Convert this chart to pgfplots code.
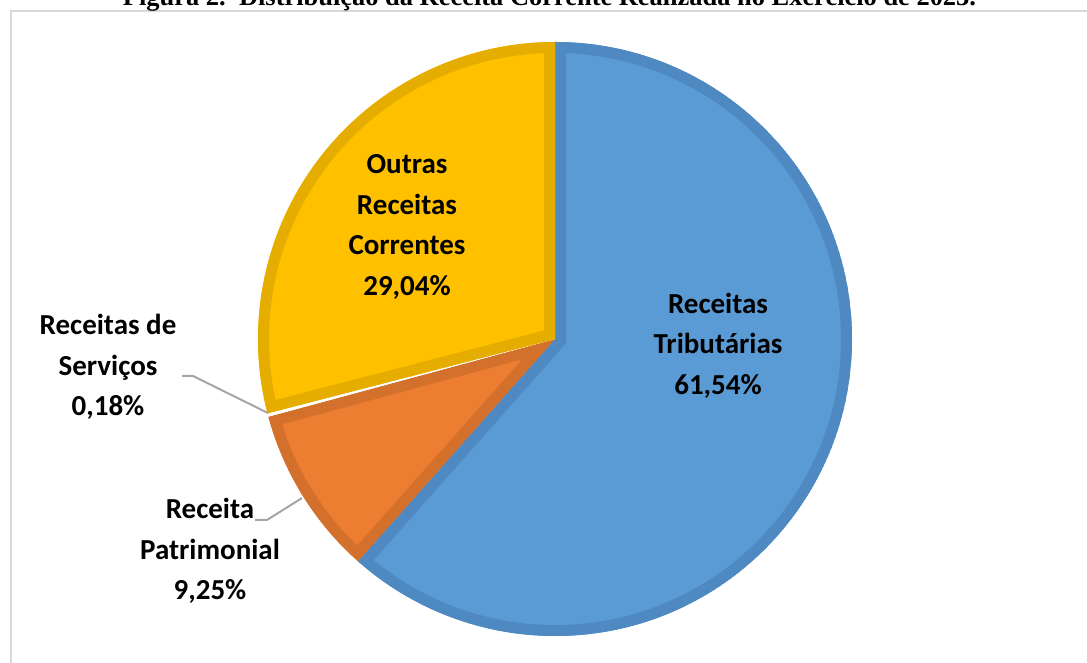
\documentclass[border=0pt]{standalone}
\usepackage{pgfplots}
\usepackage{pgfplotstable}
\pgfplotsset{compat=1.18}
\usepackage{fontspec}
\setmainfont{Carlito}
\newfontfamily\titlefont{Liberation Serif}
\definecolor{blueF}{HTML}{5B9BD5}
\definecolor{blueD}{HTML}{4F89C2}
\definecolor{orF}{HTML}{ED7D31}
\definecolor{orD}{HTML}{D3702C}
\definecolor{grF}{HTML}{FFFFFF}
\definecolor{grD}{HTML}{FFFFFF}
\definecolor{yeF}{HTML}{FFC000}
\definecolor{yeD}{HTML}{E5AD00}
\definecolor{frame}{HTML}{D9D9D9}
\definecolor{leader}{HTML}{A6A6A6}

\pgfplotstableread{
label value
Tributarias 61.54
Patrimonial 9.25
Servicos 0.18
Outras 29.04
}\piedata
\pgfplotstablegetelem{0}{value}\of\piedata \let\vA\pgfplotsretval
\pgfplotstablegetelem{1}{value}\of\piedata \let\vB\pgfplotsretval
\pgfplotstablegetelem{2}{value}\of\piedata \let\vC\pgfplotsretval
\pgfplotstablegetelem{3}{value}\of\piedata \let\vD\pgfplotsretval
\pgfmathsetmacro\tA{90}
\pgfmathsetmacro\tB{\tA-3.6*\vA}
\pgfmathsetmacro\tC{\tB-3.6*\vB}
\pgfmathsetmacro\tD{\tC-3.6*\vC}
\pgfmathsetmacro\tE{\tD-3.6*\vD}
\def\R{148.5pt}
\def\slice#1#2{(axis cs:555,324) -- ++(#1:\R) arc[start angle=#1, end angle=#2, radius=\R] -- cycle}
\newcommand\drawslice[4]{%
  \begin{scope}
    \clip \slice{#1}{#2};
    \fill[#3] \slice{#1}{#2};
    \draw[#4, line width=11pt, line join=miter] \slice{#1}{#2};
  \end{scope}}

\begin{document}
\begin{tikzpicture}
\begin{axis}[x=0.5pt, y=0.5pt, xmin=0, xmax=1087, ymin=0, ymax=663,
  hide axis, clip=false, scale only axis]
\coordinate (SW) at (axis cs:0,0);
\coordinate (NE) at (axis cs:1087,663);
% frame
\draw[frame, line width=1.2pt] (axis cs:11,-30) -- (axis cs:11,652) -- (axis cs:1120,652);
% title (cut at the top)
\node[anchor=base, inner sep=0pt] at (axis cs:549.5,657)
  {\resizebox{426.5pt}{!}{\titlefont\bfseries Figura 2.\ \ Distribuição da Receita Corrente Realizada no Exercício de 2023.}};
% slices
\drawslice{\tA}{\tB}{blueF}{blueD}
\drawslice{\tB}{\tC}{orF}{orD}
\drawslice{\tC}{\tD}{grF}{grD}
\drawslice{\tD}{\tE}{yeF}{yeD}
% leader lines
\draw[leader, line width=1pt] (axis cs:182,287) -- (axis cs:193,287) -- (axis cs:268,250);
\draw[leader, line width=1pt] (axis cs:255,143) -- (axis cs:267,143) -- (axis cs:302,165);
% labels
\tikzset{lbl/.style={align=center, inner sep=0pt, font=\fontsize{14.5}{20.3}\selectfont\bfseries}}
\node[lbl] at (axis cs:407,436) {Outras\\Receitas\\Correntes\\29,04\%};
\node[lbl] at (axis cs:718,317.5) {Receitas\\Tributárias\\61,54\%};
\node[lbl] at (axis cs:108,296) {Receitas de\\Serviços\\0,18\%};
\node[lbl] at (axis cs:210,112) {Receita\\Patrimonial\\9,25\%};
\end{axis}
\pgfresetboundingbox
\path[use as bounding box] (SW) rectangle (NE);
\end{tikzpicture}
\end{document}
